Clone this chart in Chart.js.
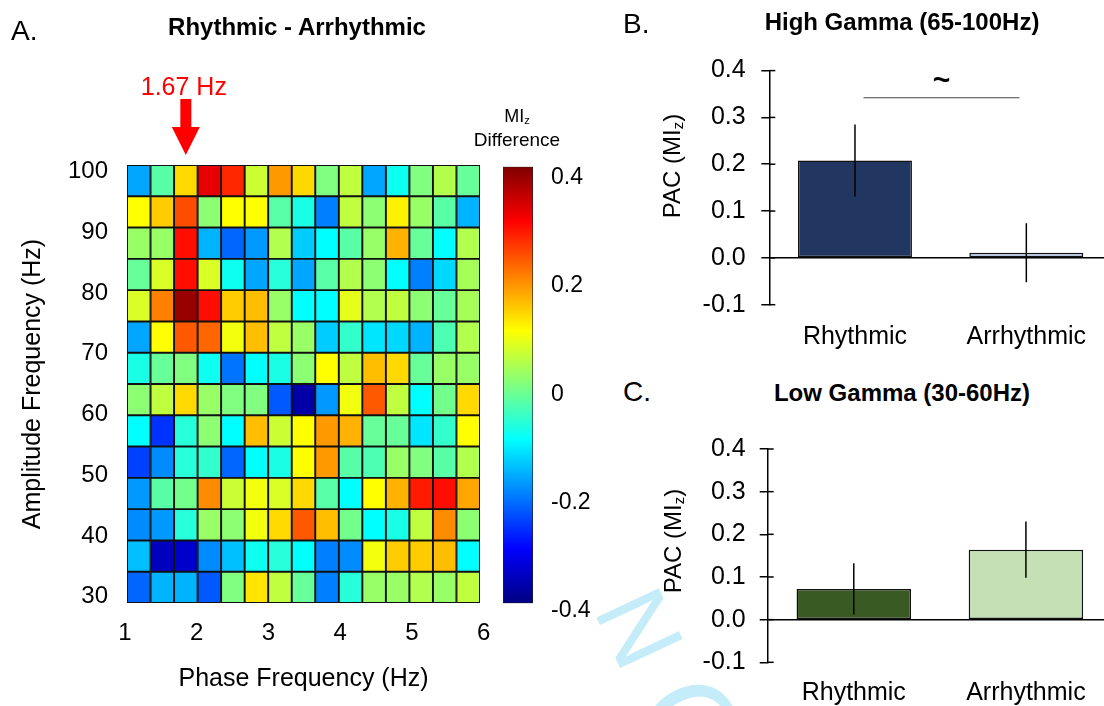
<!DOCTYPE html>
<html>
<head>
<meta charset="utf-8">
<script src="https://cdn.jsdelivr.net/npm/chart.js@4.4.1/dist/chart.umd.min.js"></script>
<style>
  html, body { margin: 0; padding: 0; background: #fff; width: 1104px; height: 706px; overflow: hidden;
    font-family: "Liberation Sans", Arial, sans-serif; color: #000; }
  canvas { position: absolute; }
  .t { position: absolute; white-space: nowrap; line-height: 1; transform: translate(-50%, -50%); }
  .l { position: absolute; white-space: nowrap; line-height: 1; transform: translate(0, -50%); }
  .b { font-weight: bold; }
  .v { transform: translate(-50%, -50%) rotate(-90deg); }
  sub { font-size: 0.62em; vertical-align: -0.22em; line-height: 0; }
  .mark { color: #c4ecf9; transform: translate(-50%, -50%) rotate(65deg); }
</style>
</head>
<body>
<div class="t mark" style="left:640px; top:628px; font-size:100px">N</div>
<div class="t mark" style="left:694px; top:730px; font-size:128px">O</div>

<canvas id="heat" width="500" height="706" style="left:0; top:0"></canvas>
<canvas id="cbar" width="104" height="706" style="left:490px; top:0"></canvas>
<canvas id="high" width="482" height="320" style="left:630px; top:40px"></canvas>
<canvas id="low" width="482" height="286" style="left:630px; top:420px"></canvas>

<div class="l" style="left:11px; top:31px; font-size:28px">A.</div>
<div class="t b" style="left:297px; top:27px; font-size:24px">Rhythmic - Arrhythmic</div>
<div class="t" style="left:517px; top:116px; font-size:18px">MI<sub>z</sub></div>
<div class="t" style="left:517px; top:139px; font-size:19px">Difference</div>

<div class="l" style="left:623px; top:24px; font-size:28px">B.</div>
<div class="t b" style="left:902px; top:22px; font-size:24px">High Gamma (65-100Hz)</div>
<div class="t v" style="left:672px; top:166px; font-size:24px">PAC (MI<sub>z</sub>)</div>

<div class="l" style="left:623px; top:392px; font-size:28px">C.</div>
<div class="t b" style="left:902px; top:393px; font-size:24px">Low Gamma (30-60Hz)</div>
<div class="t v" style="left:673px; top:541px; font-size:24px">PAC (MI<sub>z</sub>)</div>

<script>
// amplitude bins (lower edge, Hz), top row first
const ampBins = [95, 90, 85, 80, 75, 70, 65, 60, 55, 50, 45, 40, 35, 30];
const ampStep = 5;
// phase bins (lower edge, Hz)
const phaseBins = [1, 4/3, 5/3, 2, 7/3, 8/3, 3, 10/3, 11/3, 4, 13/3, 14/3, 5, 16/3, 17/3];
const phaseStep = 1/3;
const phaseTicks = [1, 2, 3, 4, 5, 6];
const ampTicks = [30, 40, 50, 60, 70, 80, 90, 100];
const peakPhase = 5/3;

// MIz rhythmic minus arrhythmic, one row per amplitude bin
const miDiff = [
  [-0.17, -0.03, 0.13, 0.32, 0.27, 0.06, 0.18, 0.13, 0.00, 0.05, -0.17, -0.09, 0.00, 0.04, -0.02],
  [ 0.10, 0.14, 0.24, 0.01, 0.10, 0.10, -0.03, -0.08, -0.20, 0.05, 0.01, 0.11, 0.02, -0.03, -0.16],
  [ 0.02, 0.02, 0.29, -0.16, -0.22, -0.18, 0.04, -0.14, -0.10, -0.03, 0.02, 0.16, -0.02, -0.10, 0.04],
  [-0.02, 0.07, 0.29, 0.07, -0.09, -0.17, -0.07, -0.17, -0.03, 0.04, 0.01, -0.10, -0.20, -0.13, 0.03],
  [ 0.07, 0.20, 0.38, 0.29, 0.14, 0.15, 0.02, -0.10, -0.10, 0.08, 0.04, 0.05, 0.01, -0.02, 0.03],
  [-0.17, 0.10, 0.23, 0.22, 0.09, 0.15, 0.05, 0.02, -0.14, -0.06, -0.12, -0.13, -0.16, -0.04, 0.04],
  [-0.08, -0.02, 0.00, -0.09, -0.21, -0.10, -0.08, 0.01, 0.10, 0.05, 0.15, 0.13, -0.02, 0.02, 0.02],
  [ 0.01, 0.05, 0.13, 0.02, 0.00, 0.00, -0.23, -0.37, -0.18, 0.09, 0.23, 0.05, -0.10, -0.01, 0.13],
  [-0.10, -0.26, -0.07, 0.01, -0.10, 0.15, 0.06, 0.10, 0.18, 0.16, -0.02, -0.02, -0.12, -0.06, 0.10],
  [-0.25, -0.19, -0.07, -0.06, -0.22, -0.10, -0.08, 0.10, 0.18, -0.03, -0.04, 0.02, 0.00, -0.03, 0.04],
  [-0.18, -0.03, -0.01, 0.19, 0.06, 0.09, 0.07, 0.13, -0.03, -0.10, 0.10, 0.16, 0.28, 0.29, 0.17],
  [-0.19, -0.18, -0.07, 0.02, 0.01, 0.09, 0.13, 0.23, 0.15, -0.01, -0.10, -0.08, 0.05, 0.19, 0.01],
  [-0.15, -0.35, -0.34, -0.19, -0.15, -0.09, -0.07, -0.10, -0.20, -0.19, 0.09, 0.14, 0.14, 0.15, -0.10],
  [-0.22, -0.16, -0.16, -0.23, 0.00, 0.12, 0.05, -0.02, -0.20, -0.07, 0.02, 0.02, 0.04, 0.02, 0.05]
];
const cbRange = [-0.4, 0.4];
const cbTicks = [-0.4, -0.2, 0, 0.2, 0.4];

// bar panels
const groups = ['Rhythmic', 'Arrhythmic'];
const highMean = [0.208, 0.011];
const highSem = [0.077, 0.063];
const lowMean = [0.072, 0.164];
const lowSem = [0.060, 0.066];
const pacTicks = [-0.1, 0, 0.1, 0.2, 0.3, 0.4];

Chart.defaults.font.family = '"Liberation Sans", Arial, sans-serif';
Chart.defaults.color = '#000';
Chart.defaults.plugins.legend.display = false;
Chart.defaults.plugins.tooltip.enabled = false;

// jet colormap
function clamp01(x) { return Math.max(0, Math.min(1, x)); }
function jet(v) {
  const t = clamp01((v - cbRange[0]) / (cbRange[1] - cbRange[0]));
  const r = clamp01(1.5 - Math.abs(4 * t - 3));
  const g = clamp01(1.5 - Math.abs(4 * t - 2));
  const b = clamp01(1.5 - Math.abs(4 * t - 1));
  return `rgb(${Math.round(r * 255)},${Math.round(g * 255)},${Math.round(b * 255)})`;
}
const jetStops = [[0, '#000080'], [0.125, '#0000ff'], [0.375, '#00ffff'], [0.625, '#ffff00'], [0.875, '#ff0000'], [1, '#800000']];

function fixedTicks(list) {
  return s => { s.ticks = list.map(v => ({ value: v })); };
}

// red arrow over the peak phase column
const peakArrow = {
  id: 'peakArrow',
  afterDraw(chart, args, o) {
    const { ctx, chartArea: a } = chart;
    const x = chart.scales.xc.getPixelForValue(o.phase + phaseStep / 2);
    const tip = a.top - 10;
    ctx.save();
    ctx.fillStyle = '#ff0000';
    ctx.fillRect(x - 5.5, tip - 56, 11, 29);
    ctx.beginPath();
    ctx.moveTo(x - 14, tip - 28);
    ctx.lineTo(x + 14, tip - 28);
    ctx.lineTo(x, tip);
    ctx.closePath();
    ctx.fill();
    ctx.font = '25px "Liberation Sans", Arial, sans-serif';
    ctx.textAlign = 'center';
    ctx.textBaseline = 'middle';
    ctx.fillText(o.phase.toFixed(2) + ' Hz', x - 2, tip - 67);
    ctx.restore();
  }
};

// heatmap: one floating-bar dataset per amplitude row
const heatSets = ampBins.map((lo, r) => ({
  data: phaseBins.map((p, c) => ({ x: p + phaseStep / 2, y: [lo, lo + ampStep], v: miDiff[r][c] })),
  backgroundColor: ctx => jet(ctx.raw.v),
  borderColor: '#111',
  borderWidth: 1.3,
  borderSkipped: false,
  barPercentage: 1,
  categoryPercentage: 1,
  grouped: false,
  xAxisID: 'xc',
  yAxisID: 'yc'
}));

new Chart(document.getElementById('heat'), {
  type: 'bar',
  data: { datasets: heatSets },
  plugins: [peakArrow],
  options: {
    responsive: false,
    animation: false,
    layout: { padding: { top: 165, right: 20, left: 0, bottom: 0 } },
    plugins: { peakArrow: { phase: peakPhase } },
    scales: {
      xc: { type: 'linear', display: false, min: 1, max: 6, offset: false },
      yc: { type: 'linear', display: false, min: 30, max: 100 },
      x: {
        type: 'linear', position: 'bottom', min: 1.03, max: 5.95, offset: false,
        afterBuildTicks: fixedTicks(phaseTicks),
        afterFit: s => { s.height = 103; s.paddingLeft = 0; s.paddingRight = 0; },
        grid: { display: false, drawTicks: false },
        border: { display: false },
        ticks: { padding: 16, font: { size: 24 }, autoSkip: false, maxRotation: 0 },
        title: { display: true, text: 'Phase Frequency (Hz)', font: { size: 25 }, padding: { top: 0, bottom: 12 } }
      },
      y: {
        type: 'linear', position: 'left', min: 28.96, max: 101.1,
        afterBuildTicks: fixedTicks(ampTicks),
        afterFit: s => { s.width = 127; s.paddingTop = 0; s.paddingBottom = 0; },
        grid: { display: false, drawTicks: false },
        border: { display: false },
        ticks: { padding: 19, font: { size: 24 }, autoSkip: false },
        title: { display: true, text: 'Amplitude Frequency (Hz)', font: { size: 25 }, padding: { top: 18 } }
      }
    }
  }
});

// colour bar: one floating bar filled with the colormap
new Chart(document.getElementById('cbar'), {
  type: 'bar',
  data: {
    labels: [''],
    datasets: [{
      data: [cbRange],
      backgroundColor: c => {
        const a = c.chart.chartArea;
        if (!a) return null;
        const g = c.chart.ctx.createLinearGradient(0, a.bottom, 0, a.top);
        jetStops.forEach(([s, col]) => g.addColorStop(s, col));
        return g;
      },
      borderColor: '#222',
      borderWidth: 1,
      borderSkipped: false,
      barPercentage: 1,
      categoryPercentage: 1,
      yAxisID: 'yc'
    }]
  },
  options: {
    responsive: false,
    animation: false,
    layout: { padding: { top: 166.7, left: 13, right: 0, bottom: 102.7 } },
    scales: {
      x: { display: false },
      yc: { type: 'linear', display: false, min: cbRange[0], max: cbRange[1] },
      y: {
        type: 'linear', position: 'right', min: -0.387, max: 0.421,
        afterBuildTicks: fixedTicks(cbTicks),
        afterFit: s => { s.width = 61; },
        grid: { display: false, drawTicks: false },
        border: { display: false },
        ticks: { padding: 18, font: { size: 23 } }
      }
    }
  }
});

// vertical SEM lines over each bar
const errorBars = {
  id: 'errorBars',
  afterDatasetsDraw(chart, args, o) {
    const { ctx } = chart;
    const y = chart.scales.y;
    const vals = chart.data.datasets[0].data;
    ctx.save();
    ctx.strokeStyle = '#000';
    ctx.lineWidth = 1.5;
    chart.getDatasetMeta(0).data.forEach((bar, i) => {
      ctx.beginPath();
      ctx.moveTo(bar.x, y.getPixelForValue(vals[i] + o.err[i]));
      ctx.lineTo(bar.x, y.getPixelForValue(vals[i] - o.err[i]));
      ctx.stroke();
    });
    ctx.restore();
  }
};

// tick marks that cross into the plot
const innerTicks = {
  id: 'innerTicks',
  afterDraw(chart) {
    const { ctx, chartArea: a } = chart;
    const y = chart.scales.y;
    ctx.save();
    ctx.strokeStyle = '#000';
    ctx.lineWidth = 1.5;
    y.ticks.forEach(t => {
      const py = y.getPixelForValue(t.value);
      ctx.beginPath();
      ctx.moveTo(a.left, py);
      ctx.lineTo(a.left + 6, py);
      ctx.stroke();
    });
    ctx.restore();
  }
};

// trend marker between the two groups
const trendMark = {
  id: 'trendMark',
  afterDraw(chart, args, o) {
    if (!o.text) return;
    const { ctx } = chart;
    const x = chart.scales.x, y = chart.scales.y;
    const x0 = x.getPixelForValue(o.from), x1 = x.getPixelForValue(o.to);
    ctx.save();
    ctx.strokeStyle = '#444';
    ctx.lineWidth = 1;
    ctx.beginPath();
    ctx.moveTo(x0, y.getPixelForValue(o.at));
    ctx.lineTo(x1, y.getPixelForValue(o.at));
    ctx.stroke();
    ctx.fillStyle = '#000';
    ctx.font = 'bold 30px "Liberation Sans", Arial, sans-serif';
    ctx.textAlign = 'center';
    ctx.textBaseline = 'middle';
    ctx.fillText(o.text, (x0 + x1) / 2, y.getPixelForValue(o.textAt));
    ctx.restore();
  }
};

function pacChart(id, means, sems, colors, geo, mark) {
  return new Chart(document.getElementById(id), {
    type: 'bar',
    data: {
      labels: groups,
      datasets: [{
        data: means,
        backgroundColor: colors,
        borderColor: '#111',
        borderWidth: 1.5,
        borderSkipped: false,
        barPercentage: 0.665,
        categoryPercentage: 1
      }]
    },
    plugins: [errorBars, innerTicks, trendMark],
    options: {
      responsive: false,
      animation: false,
      layout: { padding: { top: geo.top, left: 0, right: 0, bottom: 0 } },
      plugins: { errorBars: { err: sems }, trendMark: mark || {} },
      scales: {
        x: {
          type: 'category',
          afterFit: s => { s.height = geo.xh; },
          grid: { display: false, drawTicks: false },
          border: { display: false },
          ticks: { padding: geo.xpad, font: { size: 25 } }
        },
        y: {
          min: -0.1, max: 0.4,
          afterBuildTicks: fixedTicks(pacTicks),
          afterFit: s => { s.width = geo.yw; },
          grid: {
            color: c => (c.tick && c.tick.value === 0 ? '#000' : 'rgba(0,0,0,0)'),
            tickColor: '#000',
            tickLength: 8,
            lineWidth: 1.5
          },
          border: { color: '#000', width: 1.5 },
          ticks: { padding: geo.ypad, font: { size: 25 }, callback: v => v.toFixed(1) }
        }
      }
    }
  });
}

pacChart('high', highMean, highSem, ['#213762', '#b4c7e7'],
  { top: 24.3, xh: 55.3, yw: 139.3, xpad: 17, ypad: 15.6 },
  { from: 0.05, to: 0.96, at: 0.342, text: '~', textAt: 0.377 });

pacChart('low', lowMean, lowSem, ['#3a5a24', '#c5e0b4'],
  { top: 28.3, xh: 43.7, yw: 137.7, xpad: 16, ypad: 14 });
</script>
</body>
</html>
